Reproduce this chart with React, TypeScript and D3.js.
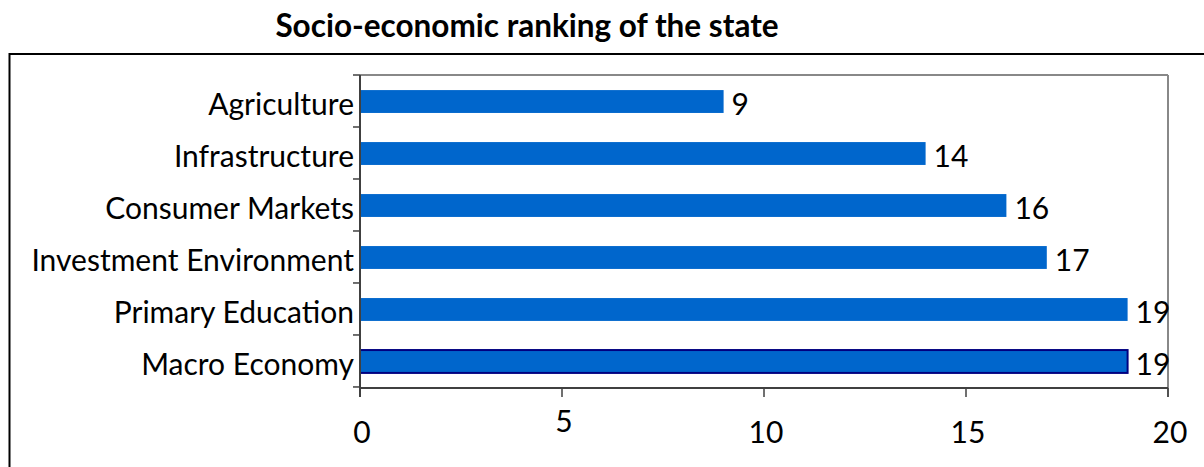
import React from "react";
import * as d3 from "d3";

const categories = ["Agriculture", "Infrastructure", "Consumer Markets", "Investment Environment", "Primary Education", "Macro Economy"];
const values = [9, 14, 16, 17, 19, 19];
const xTicks = [0, 5, 10, 15, 20];

export default function App() {
  const W = 1204, H = 467;
  const left = 360, right = 1168, top = 75, bottom = 388;
  const x = d3.scaleLinear().domain([0, 20]).range([left, right]);
  const y = d3.scaleBand().domain(categories).range([top, bottom]).paddingInner(0.56).paddingOuter(0.29);
  const font = "Lato, sans-serif";
  const bw = y.step();
  return (
    <svg width={W} height={H} style={{ position: "absolute", left: 0, top: 0 }}>
      <rect x={0} y={0} width={W} height={H} fill="#fff" />
      <text x={527} y={37} textAnchor="middle" fontFamily={font} fontWeight="bold" fontSize={31.5} fill="#000">Socio-economic ranking of the state</text>
      <rect x={9.5} y={54} width={1300} height={500} fill="none" stroke="#000" strokeWidth={2} />
      <line x1={left} x2={right} y1={top} y2={top} stroke="#888" strokeWidth={2} />
      <line x1={right} x2={right} y1={top} y2={bottom + 9} stroke="#888" strokeWidth={2} />
      {categories.map((c, i) => (
        <g key={c}>
          <rect x={x(0)} y={y(c)!} width={x(values[i]) - x(0)} height={y.bandwidth()} fill="#0066CC"
            stroke={i === categories.length - 1 ? "#000080" : "none"} strokeWidth={2} />
          <text x={x(values[i]) + 8} y={y(c)! + y.bandwidth() / 2} dy="0.45em" fontFamily={font} fontSize={30} fill="#000">{values[i]}</text>
          <text x={354} y={y(c)! + y.bandwidth() / 2} dy="0.45em" textAnchor="end" fontFamily={font} fontSize={30} fill="#000">{c}</text>
        </g>
      ))}
      {d3.range(categories.length + 1).map((k) => (
        <line key={k} x1={left - 7} x2={left} y1={top + k * bw} y2={top + k * bw} stroke="#404040" strokeWidth={1.5} />
      ))}
      <line x1={left} x2={left} y1={top} y2={bottom + 9} stroke="#404040" strokeWidth={2} />
      <line x1={left} x2={right} y1={bottom} y2={bottom} stroke="#404040" strokeWidth={2} />
      {xTicks.map((t) => (
        <g key={t}>
          <line x1={x(t)} x2={x(t)} y1={bottom} y2={bottom + 9} stroke="#404040" strokeWidth={1.5} />
          <text x={x(t) + 2} y={t === 5 ? 432 : 443} textAnchor="middle" fontFamily={font} fontSize={30} fill="#000">{t}</text>
        </g>
      ))}
    </svg>
  );
}
